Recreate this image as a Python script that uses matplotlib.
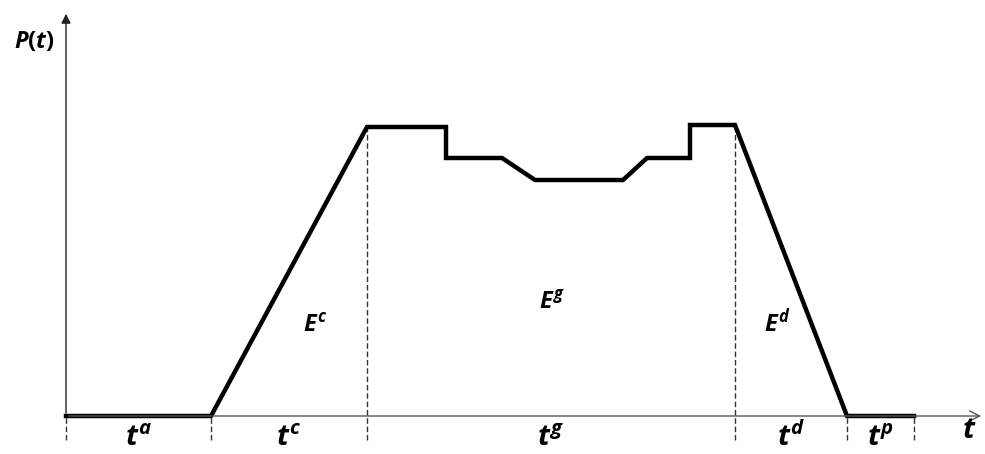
import matplotlib
matplotlib.use("Agg")
import matplotlib.pyplot as plt

# power profile (time, power), units
t_pts = [0, 145, 301, 380, 380, 436, 469, 557, 581, 624, 624, 669, 781, 848]
p_pts = [0, 0, 289, 289, 258, 258, 236, 236, 258, 258, 291, 291, 0, 0]

# phase boundaries and labels
bounds = [0, 145, 301, 669, 781, 848]
bound_tops = [0, 0, 289, 291, 0, 0]
phase_names = ["$t^a$", "$t^c$", "$t^g$", "$t^d$", "$t^p$"]
energy_names = ["$E^c$", "$E^g$", "$E^d$"]
energy_pos = [(249, 90), (486, 113), (711, 93)]

plt.rcParams['font.family'] = ['Open Sans', 'DejaVu Sans']
plt.rcParams['mathtext.fontset'] = 'custom'
plt.rcParams['mathtext.it'] = 'Open Sans:italic:bold'
plt.rcParams['mathtext.rm'] = 'Open Sans:bold'

fig = plt.figure(figsize=(9.85, 4.54), dpi=100)
ax = fig.add_axes([0, 0, 1, 1])
ax.set_xlim(-66, 919)
ax.set_ylim(-38, 416)
ax.axis('off')

# axes with arrows
ax.annotate("", xy=(0, 405), xytext=(0, 0),
            arrowprops=dict(arrowstyle="-|>", color="#222222", lw=1, mutation_scale=14))
ax.annotate("", xy=(918, 0), xytext=(0, 0),
            arrowprops=dict(arrowstyle="->", color="#555555", lw=1, mutation_scale=18))

# dashed boundaries
for b, top in zip(bounds, bound_tops):
    ax.plot([b, b], [-24, top], color="#333333", lw=1, ls=(0, (4, 2)))

ax.plot(t_pts, p_pts, color="black", lw=3.2, solid_joinstyle="miter")

for i, name in enumerate(phase_names):
    mid = (bounds[i] + bounds[i + 1]) / 2
    ax.text(mid, -36.5, name, ha="center", va="bottom", fontsize=21)
ax.text(903, -15, "$t$", ha="center", va="center", fontsize=21)

for name, (x, y) in zip(energy_names, energy_pos):
    ax.text(x, y, name, ha="center", va="center", fontsize=17)

ax.text(-32, 374, "$P(t)$", ha="center", va="center", fontsize=17)

fig.savefig("out.png", dpi=100)
